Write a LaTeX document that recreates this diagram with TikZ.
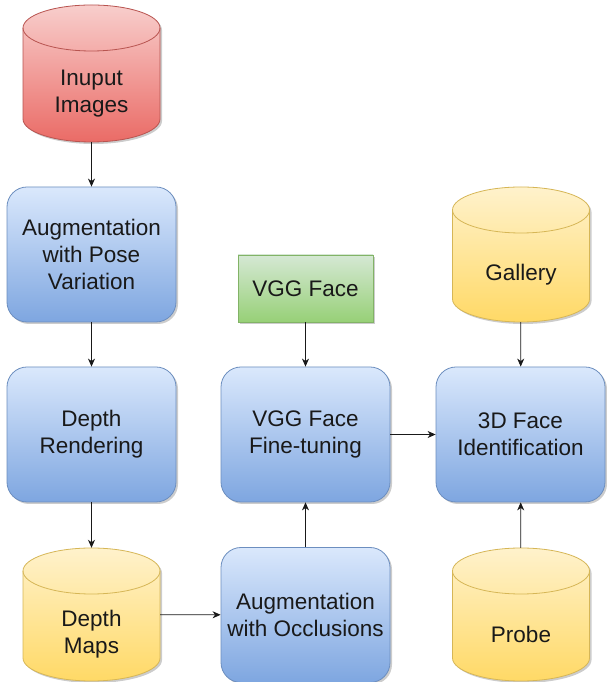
\documentclass[tikz,border=0pt]{standalone}
\usepackage{fontspec}
\setmainfont{Liberation Sans}
\usetikzlibrary{arrows.meta,shadows}
\definecolor{blueT}{HTML}{DAE8FC}
\definecolor{blueB}{HTML}{7EA6E0}
\definecolor{blueS}{HTML}{6C8EBF}
\definecolor{redT}{HTML}{F8CECC}
\definecolor{redB}{HTML}{EA6B66}
\definecolor{redS}{HTML}{B85450}
\definecolor{yelT}{HTML}{FFF2CC}
\definecolor{yelB}{HTML}{FFD966}
\definecolor{yelS}{HTML}{D6B656}
\definecolor{grnT}{HTML}{D5E8D4}
\definecolor{grnB}{HTML}{97D077}
\definecolor{grnS}{HTML}{82B366}
\tikzset{
  lbl/.style={align=center, text=black!90, font=\fontsize{22.5pt}{27pt}\selectfont, inner sep=0pt},
  rbox/.style={lbl, rectangle, rounded corners=20pt, minimum width=169pt, minimum height=135pt,
    draw=blueS, line width=0.8pt, top color=blueT, bottom color=blueB,
    drop shadow={shadow xshift=2pt, shadow yshift=-2pt, opacity=0.2, fill=black}},
  gbox/.style={lbl, rectangle, minimum width=135pt, minimum height=67pt,
    draw=grnS, line width=0.8pt, top color=grnT, bottom color=grnB,
    drop shadow={shadow xshift=2pt, shadow yshift=-2pt, opacity=0.2, fill=black}},
  cylbb/.style={rectangle, inner sep=0pt, minimum width=137pt},
  conn/.style={draw=black!90, line width=0.8pt, -{Stealth[length=8pt,width=7pt,inset=2.5pt]}},
}
% name, cx, top, bottom, top colour, bottom colour, stroke, text
\newcommand{\dbcyl}[8]{%
  \fill[black, opacity=0.2, shift={(2pt,-2pt)}]
    ({#2-68.5},{#3-23}) -- ({#2-68.5},{#4+23})
    arc[start angle=180,end angle=360,x radius=68.5,y radius=23]
    -- ({#2+68.5},{#3-23})
    arc[start angle=0,end angle=180,x radius=68.5,y radius=23] -- cycle;
  \path[top color=#5, bottom color=#6, draw=#7, line width=0.8pt]
    ({#2-68.5},{#3-23}) -- ({#2-68.5},{#4+23})
    arc[start angle=180,end angle=360,x radius=68.5,y radius=23]
    -- ({#2+68.5},{#3-23})
    arc[start angle=0,end angle=180,x radius=68.5,y radius=23] -- cycle;
  \draw[#7, line width=0.8pt] ({#2-68.5},{#3-23})
    arc[start angle=180,end angle=360,x radius=68.5,y radius=23];
  \node[cylbb, minimum height={(#3-#4)*1pt}] (#1) at (#2,{(#3+#4)/2}) {};
  \node[lbl] (#1txt) at ([yshift=-20pt]#1.center) {#8};
}
\begin{document}
\begin{tikzpicture}[x=1pt,y=1pt]
\useasboundingbox[fill=white] (0,0) rectangle (606,682);

\dbcyl{inp}{91.5}{677}{540}{redT}{redB}{redS}{Inuput\\Images}
\dbcyl{dmap}{91.5}{134}{1}{yelT}{yelB}{yelS}{Depth\\Maps}
\dbcyl{gal}{521}{495}{360}{yelT}{yelB}{yelS}{Gallery}
\dbcyl{probe}{521}{134}{1}{yelT}{yelB}{yelS}{Probe}

\node[rbox] (augpose) at (91.5,427.5) {Augmentation\\with Pose\\Variation};
\node[rbox] (depthr) at (91.5,247.5) {Depth\\Rendering};
\node[rbox] (augocc) at (305.5,67) {Augmentation\\with Occlusions};
\node[rbox] (vggft) at (305.5,247.5) {VGG Face\\Fine-tuning};
\node[rbox] (id3d) at (520.5,247.5) {3D Face\\Identification};
\node[gbox] (vgg) at (305.5,393.5) {VGG Face};

\draw[conn] (inp) -- (augpose);
\draw[conn] (augpose) -- (depthr);
\draw[conn] (depthr) -- (dmap);
\draw[conn] (dmap) -- (augocc);
\draw[conn] (augocc) -- (vggft);
\draw[conn] (vgg) -- (vggft);
\draw[conn] (vggft) -- (id3d);
\draw[conn] (gal) -- (id3d);
\draw[conn] (probe) -- (id3d);
\end{tikzpicture}
\end{document}
